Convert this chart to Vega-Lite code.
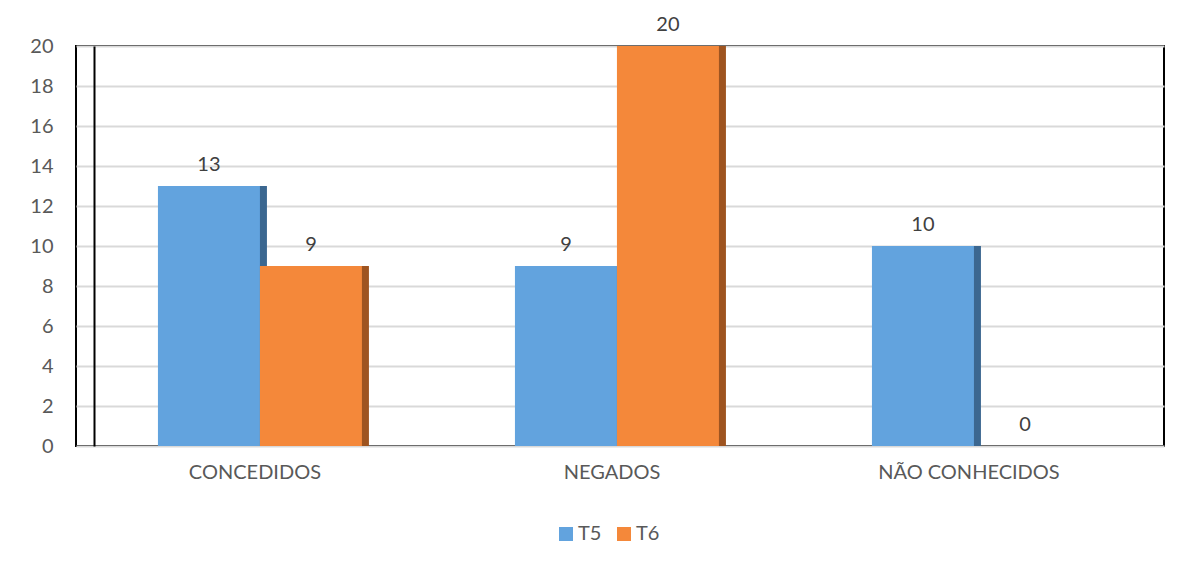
{
  "$schema": "https://vega.github.io/schema/vega-lite/v6.json",
  "width": 1088,
  "height": 400,
  "autosize": {"type": "none"},
  "padding": {"left": 76, "top": 46, "right": 22, "bottom": 117},
  "background": "white",
  "config": {
    "view": {"stroke": "black", "strokeWidth": 2},
    "font": "Lato"
  },
  "data": {
    "values": [
      {"categoria": "CONCEDIDOS", "serie": "T5", "valor": 13},
      {"categoria": "CONCEDIDOS", "serie": "T6", "valor": 9},
      {"categoria": "NEGADOS", "serie": "T5", "valor": 9},
      {"categoria": "NEGADOS", "serie": "T6", "valor": 20},
      {"categoria": "NÃO CONHECIDOS", "serie": "T5", "valor": 10},
      {"categoria": "NÃO CONHECIDOS", "serie": "T6", "valor": 0}
    ]
  },
  "encoding": {
    "x": {
      "field": "categoria",
      "type": "nominal",
      "sort": null,
      "scale": {"paddingInner": 0.4286, "paddingOuter": 0.2381, "align": 0.482},
      "axis": {
        "title": null,
        "labelAngle": 0,
        "labelFontSize": 20,
        "labelColor": "#595959",
        "labelPadding": 16,
        "labelOffset": -5,
        "labelLimit": 0,
        "ticks": false,
        "tickSize": 0,
        "domain": false,
        "grid": false
      }
    },
    "y": {
      "field": "valor",
      "type": "quantitative",
      "scale": {"domain": [0, 20], "nice": false},
      "axis": {
        "title": null,
        "values": [0, 2, 4, 6, 8, 10, 12, 14, 16, 18, 20],
        "labelFontSize": 20,
        "labelColor": "#595959",
        "offset": -18,
        "labelPadding": 41,
        "ticks": false,
        "tickSize": 0,
        "domain": true,
        "domainColor": "black",
        "domainWidth": 2,
        "grid": true,
        "gridColor": "#D9D9D9",
        "gridWidth": 2
      }
    }
  },
  "layer": [
    {
      "mark": {"type": "rule", "strokeWidth": 14, "strokeCap": "butt"},
      "encoding": {
        "xOffset": {"field": "serie", "type": "nominal", "scale": {"type": "point", "padding": 0.5, "align": 1}},
        "y2": {"datum": 0},
        "color": {
          "field": "serie",
          "type": "nominal",
          "scale": {"domain": ["T5", "T6"], "range": ["#3B6790", "#9E5420"]},
          "legend": null
        }
      }
    },
    {
      "layer": [
        {
          "mark": {"type": "bar"},
          "encoding": {
            "color": {
              "field": "serie",
              "type": "nominal",
              "scale": {"domain": ["T5", "T6"], "range": ["#62A3DE", "#F4883A"]},
              "legend": {
                "title": null,
                "orient": "none",
                "legendX": 480,
                "legendY": 478,
                "direction": "horizontal",
                "symbolType": "square",
                "symbolSize": 196,
                "symbolStrokeWidth": 0,
                "labelFontSize": 20,
                "labelColor": "#595959",
                "labelOffset": 2,
                "columnPadding": 12,
                "padding": 0
              }
            }
          }
        },
        {
          "mark": {"type": "text", "fontSize": 20, "color": "#404040", "baseline": "middle", "dy": -21},
          "encoding": {
            "text": {"field": "valor", "type": "quantitative"}
          }
        }
      ],
      "encoding": {
        "xOffset": {"field": "serie", "type": "nominal", "scale": {"paddingInner": 0, "paddingOuter": 0}}
      }
    }
  ],
  "resolve": {"scale": {"color": "independent", "xOffset": "independent"}}
}
